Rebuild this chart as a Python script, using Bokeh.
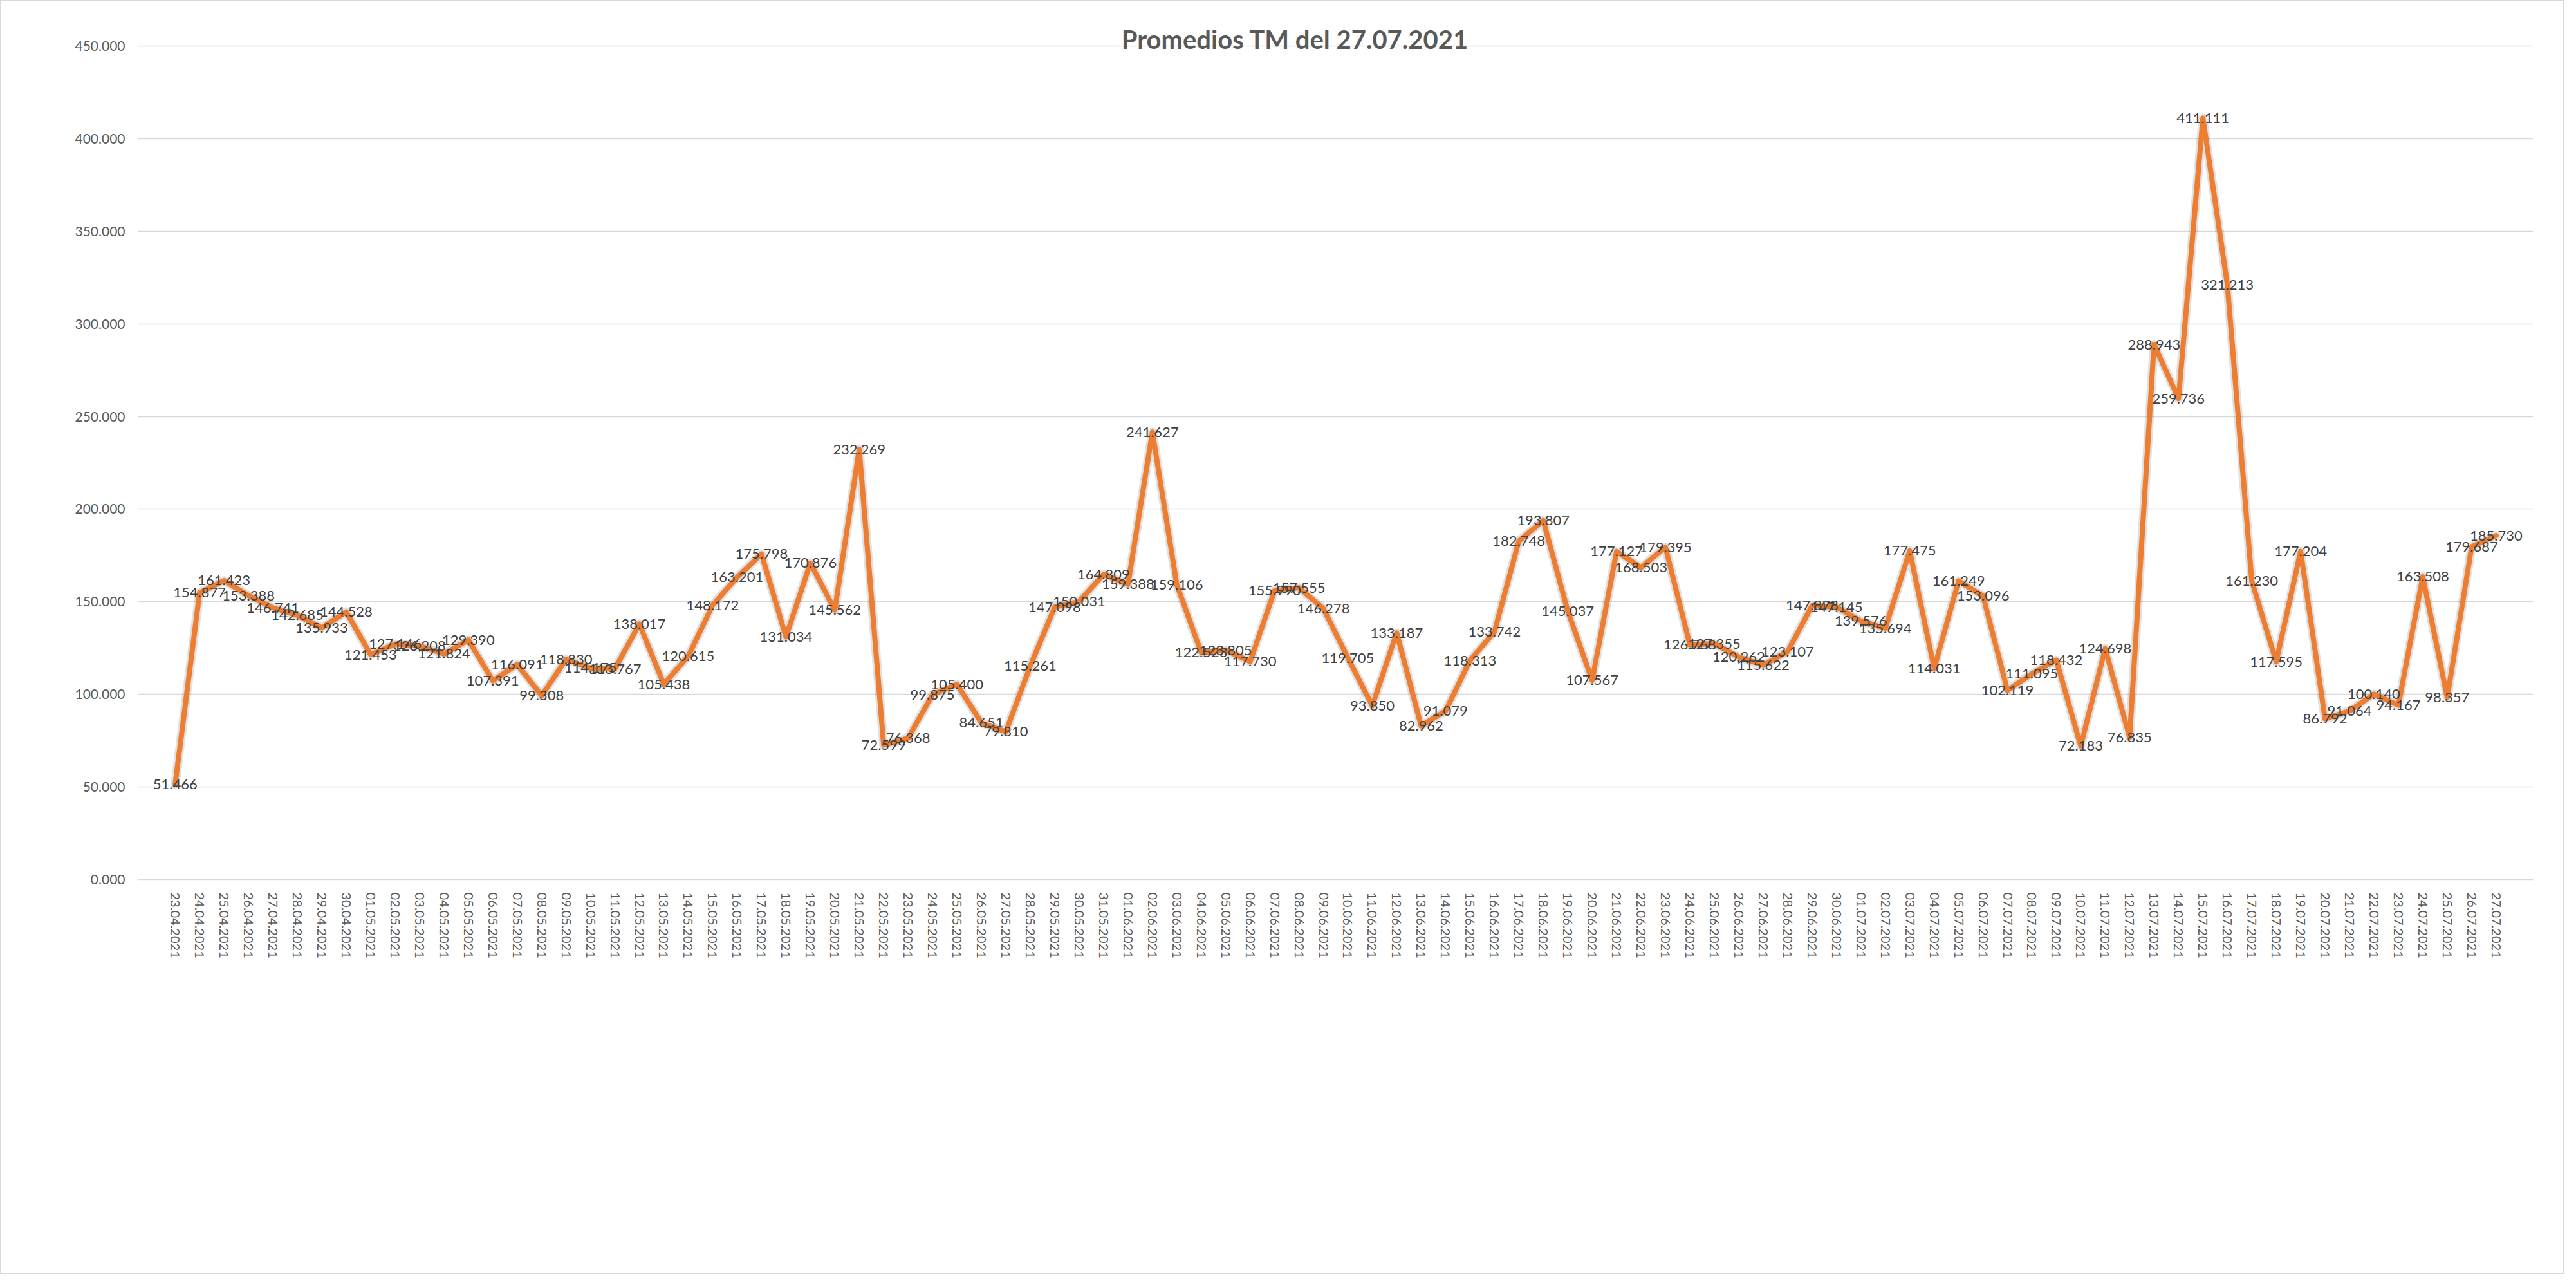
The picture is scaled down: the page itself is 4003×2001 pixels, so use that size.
from bokeh.plotting import figure
from bokeh.models import ColumnDataSource, FactorRange, Range1d, FixedTicker, PrintfTickFormatter, Label, LabelSet
from bokeh.embed import file_html
from bokeh.resources import INLINE
from bokeh.core.properties import value

title_text = "Promedios TM del 27.07.2021"

dates = [
    "23.04.2021", "24.04.2021", "25.04.2021", "26.04.2021", "27.04.2021", "28.04.2021", "29.04.2021", "30.04.2021",
    "01.05.2021", "02.05.2021", "03.05.2021", "04.05.2021", "05.05.2021", "06.05.2021", "07.05.2021", "08.05.2021",
    "09.05.2021", "10.05.2021", "11.05.2021", "12.05.2021", "13.05.2021", "14.05.2021", "15.05.2021", "16.05.2021",
    "17.05.2021", "18.05.2021", "19.05.2021", "20.05.2021", "21.05.2021", "22.05.2021", "23.05.2021", "24.05.2021",
    "25.05.2021", "26.05.2021", "27.05.2021", "28.05.2021", "29.05.2021", "30.05.2021", "31.05.2021",
    "01.06.2021", "02.06.2021", "03.06.2021", "04.06.2021", "05.06.2021", "06.06.2021", "07.06.2021", "08.06.2021",
    "09.06.2021", "10.06.2021", "11.06.2021", "12.06.2021", "13.06.2021", "14.06.2021", "15.06.2021", "16.06.2021",
    "17.06.2021", "18.06.2021", "19.06.2021", "20.06.2021", "21.06.2021", "22.06.2021", "23.06.2021", "24.06.2021",
    "25.06.2021", "26.06.2021", "27.06.2021", "28.06.2021", "29.06.2021", "30.06.2021",
    "01.07.2021", "02.07.2021", "03.07.2021", "04.07.2021", "05.07.2021", "06.07.2021", "07.07.2021", "08.07.2021",
    "09.07.2021", "10.07.2021", "11.07.2021", "12.07.2021", "13.07.2021", "14.07.2021", "15.07.2021", "16.07.2021",
    "17.07.2021", "18.07.2021", "19.07.2021", "20.07.2021", "21.07.2021", "22.07.2021", "23.07.2021", "24.07.2021",
    "25.07.2021", "26.07.2021", "27.07.2021",
]

promedios = [
    51.466, 154.877, 161.423, 153.388, 146.741, 142.685, 135.933, 144.528,
    121.453, 127.146, 126.208, 121.824, 129.390, 107.391, 116.091, 99.308,
    118.830, 114.175, 113.767, 138.017, 105.438, 120.615, 148.172, 163.201,
    175.798, 131.034, 170.876, 145.562, 232.269, 72.599, 76.368, 99.875,
    105.400, 84.651, 79.810, 115.261, 147.098, 150.031, 164.809,
    159.388, 241.627, 159.106, 122.523, 123.805, 117.730, 155.990, 157.555,
    146.278, 119.705, 93.850, 133.187, 82.962, 91.079, 118.313, 133.742,
    182.748, 193.807, 145.037, 107.567, 177.127, 168.503, 179.395, 126.768,
    127.355, 120.262, 115.622, 123.107, 147.878, 147.145,
    139.576, 135.694, 177.475, 114.031, 161.249, 153.096, 102.119, 111.095,
    118.432, 72.183, 124.698, 76.835, 288.943, 259.736, 411.111, 321.213,
    161.230, 117.595, 177.204, 86.792, 91.064, 100.140, 94.167, 163.508,
    98.357, 179.687, 185.730,
]

y_ticks = [0, 50, 100, 150, 200, 250, 300, 350, 400, 450]

etiquetas = [f"{v:.3f}" for v in promedios]
src = ColumnDataSource(dict(fecha=dates, valor=promedios, etiqueta=etiquetas))

p = figure(
    width=3985, height=1980,
    x_range=FactorRange(factors=dates, range_padding=1.02, range_padding_units="absolute"),
    y_range=Range1d(0, 467.4),
    output_backend="svg", toolbar_location=None,
    min_border_left=212, min_border_right=51, min_border_top=19, min_border_bottom=616,
)
p.styles = {"border": "2px solid #d9d9d9"}
p.outline_line_color = None
p.background_fill_color = "white"
p.border_fill_color = "white"

p.xgrid.visible = False
p.ygrid.ticker = FixedTicker(ticks=y_ticks)
p.ygrid.grid_line_color = "#d9d9d9"
p.ygrid.grid_line_width = 1.5

p.yaxis.ticker = FixedTicker(ticks=y_ticks)
p.yaxis.formatter = PrintfTickFormatter(format="%.3f")
p.yaxis.axis_line_color = None
p.yaxis.major_tick_line_color = None
p.yaxis.minor_tick_line_color = None
p.yaxis.major_label_text_font = "Lato"
p.yaxis.major_label_text_font_size = "21px"
p.yaxis.major_label_text_color = "#595959"
p.yaxis.major_label_standoff = 14

p.xaxis.axis_line_color = "#d9d9d9"
p.xaxis.axis_line_width = 1.5
p.xaxis.major_tick_line_color = None
p.xaxis.minor_tick_line_color = None
p.xaxis.major_label_orientation = "vertical"
p.xaxis.major_label_text_font = "Lato"
p.xaxis.major_label_text_font_size = "20px"
p.xaxis.major_label_text_color = "#595959"
p.xaxis.major_label_standoff = 14

# soft shadow + main line
p.line("fecha", "valor", source=src, line_color="#000000", line_alpha=0.12,
       line_width=14, line_join="round", line_cap="round")
p.line("fecha", "valor", source=src, line_color="#ED7D31", line_width=8,
       line_join="round", line_cap="round")

labels = LabelSet(x="fecha", y="valor", text="etiqueta", source=src,
                  text_align="center", text_baseline="middle",
                  text_font=value("Lato"), text_font_size="22px", text_color="#404040")
p.add_layout(labels)

title = Label(x=1798, y=1306, x_units="screen", y_units="screen", text=title_text,
              text_font="Lato", text_font_style="bold", text_font_size="40px",
              text_color="#595959", text_align="center", text_baseline="middle")
p.add_layout(title)

open("out.html", "w").write(file_html(p, INLINE))
